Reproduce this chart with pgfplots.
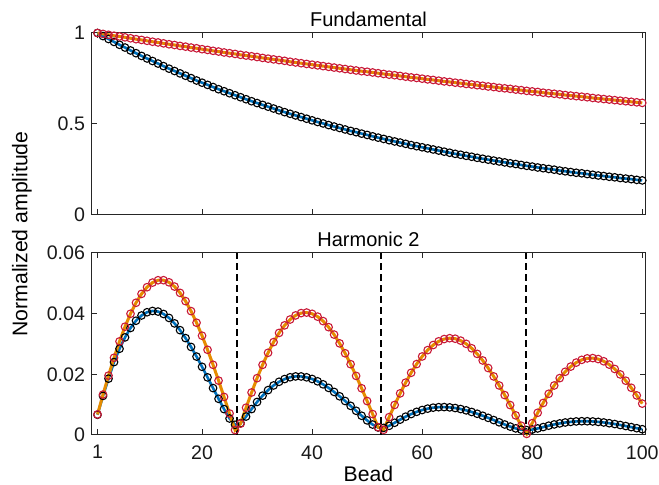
\documentclass[border=0pt]{standalone}
\usepackage{fontspec}
\setmainfont{Liberation Sans}
\usepackage{pgfplots}
\usepackage{pgfplotstable}
\pgfplotsset{compat=1.18}

\definecolor{mblue}{rgb}{0,0.447,0.741}
\definecolor{morange}{RGB}{230,140,0}
\definecolor{mred}{RGB}{200,25,55}
\definecolor{axgray}{gray}{0.15}

% fundamental: normalized amplitude per bead
\pgfplotstableread{
x blue red
1 1.000 1.000
2 0.983 0.995
3 0.967 0.990
4 0.951 0.985
5 0.935 0.981
6 0.920 0.976
7 0.904 0.971
8 0.889 0.966
9 0.874 0.962
10 0.860 0.957
11 0.846 0.952
12 0.832 0.948
13 0.818 0.943
14 0.804 0.938
15 0.791 0.934
16 0.778 0.929
17 0.765 0.925
18 0.752 0.920
19 0.739 0.916
20 0.727 0.911
21 0.715 0.907
22 0.703 0.902
23 0.691 0.898
24 0.680 0.893
25 0.669 0.889
26 0.658 0.885
27 0.647 0.880
28 0.636 0.876
29 0.625 0.872
30 0.615 0.868
31 0.605 0.863
32 0.595 0.859
33 0.585 0.855
34 0.575 0.851
35 0.565 0.847
36 0.556 0.842
37 0.547 0.838
38 0.538 0.834
39 0.529 0.830
40 0.520 0.826
41 0.511 0.822
42 0.503 0.818
43 0.494 0.814
44 0.486 0.810
45 0.478 0.806
46 0.470 0.802
47 0.462 0.798
48 0.455 0.794
49 0.447 0.790
50 0.440 0.787
51 0.432 0.783
52 0.425 0.779
53 0.418 0.775
54 0.411 0.771
55 0.404 0.768
56 0.398 0.764
57 0.391 0.760
58 0.384 0.756
59 0.378 0.753
60 0.372 0.749
61 0.366 0.745
62 0.360 0.742
63 0.354 0.738
64 0.348 0.734
65 0.342 0.731
66 0.336 0.727
67 0.331 0.724
68 0.325 0.720
69 0.320 0.717
70 0.314 0.713
71 0.309 0.710
72 0.304 0.706
73 0.299 0.703
74 0.294 0.699
75 0.289 0.696
76 0.284 0.693
77 0.280 0.689
78 0.275 0.686
79 0.270 0.682
80 0.266 0.679
81 0.261 0.676
82 0.257 0.672
83 0.253 0.669
84 0.249 0.666
85 0.244 0.663
86 0.240 0.659
87 0.236 0.656
88 0.232 0.653
89 0.229 0.650
90 0.225 0.647
91 0.221 0.643
92 0.217 0.640
93 0.214 0.637
94 0.210 0.634
95 0.207 0.631
96 0.203 0.628
97 0.200 0.625
98 0.197 0.622
99 0.193 0.619
100 0.190 0.616
}\fundtab

% harmonic 2
\pgfplotstableread{
x blue red
1 0.00668 0.00677
2 0.01289 0.01333
3 0.01857 0.01958
4 0.02403 0.02545
5 0.02842 0.03085
6 0.03218 0.03570
7 0.03527 0.03997
8 0.03767 0.04359
9 0.03940 0.04651
10 0.04046 0.04872
11 0.04089 0.05024
12 0.04069 0.05101
13 0.03990 0.05103
14 0.03859 0.05033
15 0.03679 0.04893
16 0.03456 0.04685
17 0.03194 0.04413
18 0.02903 0.04084
19 0.02585 0.03701
20 0.02248 0.03273
21 0.01899 0.02809
22 0.01546 0.02314
23 0.01193 0.01793
24 0.00853 0.01255
25 0.00544 0.00709
26 0.00337 0.00163
27 0.00388 0.00376
28 0.00608 0.00900
29 0.00854 0.01401
30 0.01088 0.01873
31 0.01297 0.02312
32 0.01480 0.02710
33 0.01633 0.03062
34 0.01754 0.03365
35 0.01843 0.03614
36 0.01903 0.03806
37 0.01931 0.03942
38 0.01930 0.04018
39 0.01901 0.04036
40 0.01847 0.03995
41 0.01769 0.03902
42 0.01670 0.03754
43 0.01553 0.03555
44 0.01420 0.03310
45 0.01275 0.03020
46 0.01121 0.02694
47 0.00961 0.02334
48 0.00798 0.01948
49 0.00635 0.01540
50 0.00481 0.01119
51 0.00344 0.00690
52 0.00247 0.00258
53 0.00234 0.00171
54 0.00302 0.00589
55 0.00403 0.00991
56 0.00506 0.01372
57 0.00604 0.01726
58 0.00690 0.02050
59 0.00763 0.02338
60 0.00823 0.02588
61 0.00869 0.02798
62 0.00901 0.02965
63 0.00917 0.03087
64 0.00920 0.03162
65 0.00910 0.03191
66 0.00889 0.03174
67 0.00855 0.03111
68 0.00812 0.03005
69 0.00759 0.02859
70 0.00700 0.02674
71 0.00635 0.02457
72 0.00565 0.02208
73 0.00492 0.01931
74 0.00418 0.01633
75 0.00346 0.01315
76 0.00277 0.00986
77 0.00218 0.00647
78 0.00176 0.00306
79 0.00161 0.00036
80 0.00179 0.00390
81 0.00216 0.00732
82 0.00261 0.01056
83 0.00307 0.01358
84 0.00348 0.01632
85 0.00382 0.01875
86 0.00412 0.02084
87 0.00432 0.02255
88 0.00447 0.02387
89 0.00454 0.02477
90 0.00453 0.02526
91 0.00446 0.02535
92 0.00432 0.02503
93 0.00413 0.02430
94 0.00388 0.02321
95 0.00361 0.02176
96 0.00329 0.01997
97 0.00295 0.01790
98 0.00260 0.01557
99 0.00224 0.01304
100 0.00190 0.01034
}\harmtab

\pgfplotsset{
  beadaxis/.style={
    scale only axis, width=276.5pt, height=91pt,
    xmin=0, xmax=100.5, clip=false,
    scaled x ticks=false, scaled y ticks=false,
    xtick={1,20,40,60,80,100},
    tick align=inside, major tick length=2.75pt,
    axis line style={axgray, line width=0.5pt},
    every tick/.style={axgray, line width=0.5pt},
    tick label style={font=\fontsize{9.8}{11}\selectfont, text=black!90},
    xticklabel style={yshift=-1.7pt},
    title style={at={(axis description cs:0.5,1)}, anchor=base, yshift=-3pt,
      font=\fontsize{10}{12}\selectfont},
  },
  bluel/.style={mblue, line width=1.3pt, mark=none},
  orangel/.style={morange, line width=1.5pt, mark=none},
  blackm/.style={only marks, mark=o, mark size=1.9pt, black, line width=0.55pt},
  redm/.style={only marks, mark=o, mark size=1.9pt, mred, line width=0.55pt},
  nodeline/.style={black, line width=0.95pt, dash pattern=on 3.5pt off 2pt},
}

\begin{document}
\begin{tikzpicture}
\useasboundingbox (-46pt,-25pt) rectangle (283.5pt,217.5pt);

\begin{axis}[beadaxis, at={(0,110pt)}, anchor=south west,
  ymin=0, ymax=1, ytick={0,0.5,1}, yticklabels={0,0.5,1},
  xticklabels={}, title={Fundamental}]
\addplot[bluel] table[x=x, y=blue] {\fundtab};
\addplot[blackm] table[x=x, y=blue] {\fundtab};
\addplot[orangel] table[x=x, y=red] {\fundtab};
\addplot[redm] table[x=x, y=red] {\fundtab};
\end{axis}

\begin{axis}[beadaxis, at={(0,0)}, anchor=south west,
  ymin=0, ymax=0.06, ytick={0,0.02,0.04,0.06}, yticklabels={0,0.02,0.04,0.06},
  xticklabels={1,20,40,60,80,100}, title={Harmonic 2},
  xlabel={Bead},
  xlabel style={at={(axis description cs:0.5,0)}, anchor=center, yshift=-19.7pt,
    font=\fontsize{10.6}{12}\selectfont}]
\addplot[nodeline] coordinates {(26.3,0) (26.3,0.06)};
\addplot[nodeline] coordinates {(52.6,0) (52.6,0.06)};
\addplot[nodeline] coordinates {(78.9,0) (78.9,0.06)};
\addplot[bluel] table[x=x, y=blue] {\harmtab};
\addplot[blackm] table[x=x, y=blue] {\harmtab};
\addplot[orangel] table[x=x, y=red] {\harmtab};
\addplot[redm] table[x=x, y=red] {\harmtab};
\end{axis}

\node[rotate=90, font=\fontsize{10.6}{12}\selectfont] at (-35pt,100.5pt) {Normalized amplitude};
\end{tikzpicture}
\end{document}
